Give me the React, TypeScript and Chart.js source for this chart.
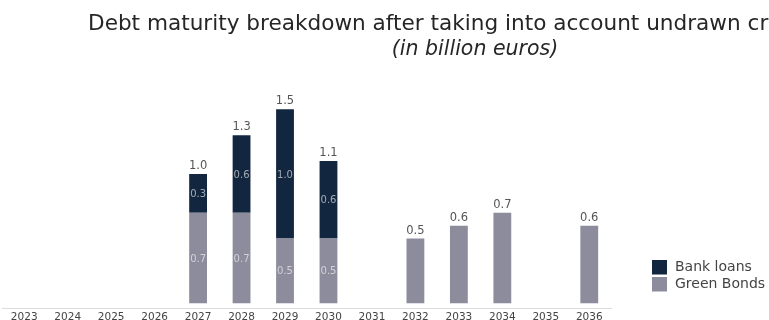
import React, { useEffect, useRef } from "react";
import { Chart, registerables } from "chart.js";

Chart.register(...registerables);

const categories = ["2023", "2024", "2025", "2026", "2027", "2028", "2029", "2030", "2031", "2032", "2033", "2034", "2035", "2036"];
const greenBonds: (number | null)[] = [null, null, null, null, 0.7, 0.7, 0.5, 0.5, null, 0.5, 0.6, 0.7, null, 0.6];
const bankLoans: (number | null)[] = [null, null, null, null, 0.3, 0.6, 1.0, 0.6, null, null, null, null, null, null];
const seriesNames = ["Green Bonds", "Bank loans"];
const seriesColors = ["#8c8c9c", "#12263f"];
const titleText = "Debt maturity breakdown after taking into account undrawn credit lines";
const subtitleText = "(in billion euros)";

const FONT = "'DejaVu Sans', sans-serif";

const labelsPlugin = {
  id: "barLabels",
  afterDatasetsDraw(chart: any) {
    const ctx = chart.ctx;
    const gMeta = chart.getDatasetMeta(0);
    const bMeta = chart.getDatasetMeta(1);
    ctx.save();
    categories.forEach((_, i) => {
      const g = greenBonds[i] ?? 0;
      const b = bankLoans[i] ?? 0;
      const total = g + b;
      if (!total) return;
      const topEl = b ? bMeta.data[i] : gMeta.data[i];
      ctx.font = `11.5px ${FONT}`;
      ctx.fillStyle = "#555555";
      ctx.textAlign = "center";
      ctx.textBaseline = "alphabetic";
      ctx.fillText(total.toFixed(1), topEl.x, topEl.y - 5);
      if (g && b) {
        ctx.font = `10px ${FONT}`;
        ctx.textBaseline = "middle";
        ctx.fillStyle = "rgba(255,255,255,0.6)";
        const ge = gMeta.data[i];
        const be = bMeta.data[i];
        ctx.fillText(g.toFixed(1), ge.x, (ge.y + ge.base) / 2 + 1);
        ctx.fillText(b.toFixed(1), be.x, (be.y + be.base) / 2 + 1);
      }
    });
    ctx.restore();
  },
};

const titlePlugin = {
  id: "titleLines",
  afterDraw(chart: any) {
    const ctx = chart.ctx;
    ctx.save();
    ctx.fillStyle = "#262626";
    ctx.textBaseline = "alphabetic";
    ctx.font = `21.6px ${FONT}`;
    ctx.textAlign = "left";
    ctx.fillText(titleText, 88, 30);
    ctx.font = `italic 20.5px ${FONT}`;
    ctx.textAlign = "center";
    ctx.fillText(subtitleText, 475, 55);
    ctx.restore();
  },
};

const legendPlugin = {
  id: "sideLegend",
  afterDraw(chart: any) {
    const ctx = chart.ctx;
    ctx.save();
    const order = [1, 0];
    order.forEach((di, k) => {
      const ds = chart.data.datasets[di];
      const y = 260 + k * 17;
      ctx.fillStyle = ds.backgroundColor;
      ctx.fillRect(652, y, 15, 14.5);
      ctx.fillStyle = "#444444";
      ctx.font = `14px ${FONT}`;
      ctx.textAlign = "left";
      ctx.textBaseline = "middle";
      ctx.fillText(ds.label, 675, y + 7.5);
    });
    ctx.restore();
  },
};

export default function App() {
  const ref = useRef<HTMLCanvasElement | null>(null);
  useEffect(() => {
    if (!ref.current) return;
    const chart = new Chart(ref.current, {
      type: "bar",
      data: {
        labels: categories,
        datasets: [
          { label: seriesNames[0], data: greenBonds, backgroundColor: seriesColors[0], stack: "s" },
          { label: seriesNames[1], data: bankLoans, backgroundColor: seriesColors[1], stack: "s" },
        ],
      },
      options: {
        responsive: false,
        animation: false,
        devicePixelRatio: 1,
        layout: { padding: { left: 2.5, right: 158, top: 70.5, bottom: 0 } },
        plugins: {
          legend: { display: false },
          title: { display: false },
          tooltip: { enabled: false },
        },
        datasets: { bar: { categoryPercentage: 1, barPercentage: 0.41 } },
        scales: {
          x: {
            stacked: true,
            grid: { display: false, drawTicks: false },
            border: { display: true, color: "#dcdcdc", width: 1 },
            ticks: { color: "#444444", font: { family: FONT, size: 10.5 }, padding: 3, maxRotation: 0, autoSkip: false },
          },
          y: {
            stacked: true,
            display: false,
            min: -0.04,
            max: 1.8,
          },
        },
      },
      plugins: [labelsPlugin, titlePlugin, legendPlugin],
    });
    return () => chart.destroy();
  }, []);
  return (
    <div style={{ position: "fixed", left: 0, top: 0, width: 769, height: 320, overflow: "hidden", background: "#fff" }}>
      <canvas ref={ref} width={769} height={327} style={{ display: "block", width: 769, height: 327 }} />
    </div>
  );
}
